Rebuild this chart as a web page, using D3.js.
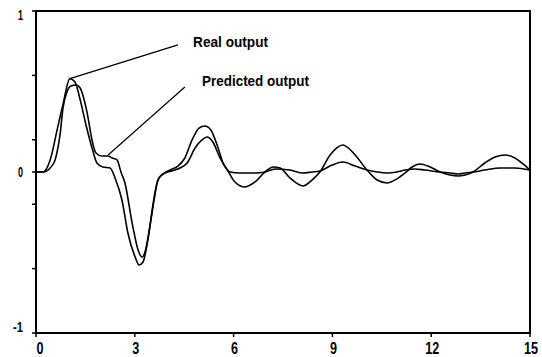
<!DOCTYPE html>
<meta charset="utf-8">
<style>
  body { margin: 0; padding: 0; background: #fff; }
  svg { display: block; background: #fff; }
  .lbl { font-family: "Liberation Sans", Arial, sans-serif; font-weight: bold; fill: #000; }
</style>
<script src="https://d3js.org/d3.v7.min.js"></script>
<svg id="vis"></svg>
<script>
var width = 542, height = 357;

// time axis (both series share it)
var realT = [0, 0.21, 0.43, 0.64, 0.82, 1.03, 1.18, 1.34, 1.52, 1.70, 1.85, 2.03, 2.25, 2.40, 2.61, 2.79, 3.01, 3.13, 3.25, 3.37, 3.49, 3.61, 3.70, 3.86, 4.07, 4.31, 4.52, 4.74, 4.95, 5.13, 5.31, 5.53, 5.68, 5.83, 6.04, 6.35, 6.65, 6.95, 7.20, 7.41, 7.71, 8.11, 8.38, 8.62, 8.93, 9.32, 9.69, 10.05, 10.36, 10.66, 10.96, 11.21, 11.42, 11.66, 11.97, 12.27, 12.57, 12.82, 13.03, 13.27, 13.63, 13.94, 14.24, 14.54, 14.79, 15];
var realY = [0, 0, 0.075, 0.26, 0.42, 0.58, 0.56, 0.45, 0.29, 0.15, 0.056, 0.031, 0.025, -0.037, -0.174, -0.379, -0.528, -0.578, -0.559, -0.453, -0.298, -0.143, -0.05, -0.012, 0.012, 0.037, 0.087, 0.199, 0.273, 0.286, 0.261, 0.149, 0.056, 0.006, -0.062, -0.093, -0.062, 0.0, 0.031, 0.025, -0.037, -0.087, -0.05, 0.0, 0.106, 0.168, 0.106, 0.012, -0.05, -0.068, -0.043, -0.006, 0.031, 0.05, 0.031, 0.0, -0.019, -0.025, -0.019, 0.0, 0.056, 0.093, 0.106, 0.087, 0.05, 0.012];

var predT = [0, 0.21, 0.43, 0.58, 0.64, 0.73, 0.82, 0.94, 1.06, 1.22, 1.34, 1.55, 1.70, 1.82, 2.00, 2.19, 2.31, 2.46, 2.58, 2.70, 2.92, 3.10, 3.22, 3.31, 3.43, 3.55, 3.64, 3.74, 3.92, 4.22, 4.37, 4.59, 4.83, 5.04, 5.19, 5.37, 5.59, 5.77, 5.89, 6.19, 6.65, 6.95, 7.26, 7.71, 8.11, 8.38, 8.62, 8.99, 9.32, 9.69, 10.05, 10.36, 10.66, 10.96, 11.21, 11.51, 11.81, 12.27, 12.57, 12.82, 13.03, 13.27, 13.63, 14.09, 14.54, 15];
var predY = [0, 0, 0.025, 0.075, 0.124, 0.23, 0.398, 0.497, 0.534, 0.54, 0.522, 0.37, 0.199, 0.118, 0.099, 0.099, 0.087, 0.075, 0.0, -0.068, -0.317, -0.484, -0.528, -0.497, -0.373, -0.205, -0.099, -0.037, -0.006, 0.012, 0.025, 0.056, 0.149, 0.199, 0.217, 0.186, 0.087, 0.025, 0.0, -0.006, -0.006, 0.0, 0.019, 0.012, -0.006, 0.0, 0.006, 0.043, 0.062, 0.037, 0.012, 0.0, -0.006, 0.0, 0.012, 0.019, 0.012, 0.0, -0.006, -0.012, -0.006, 0.0, 0.012, 0.025, 0.025, 0.012];

var xTicks = [0, 3, 6, 9, 12, 15];
var yTicks = [-1, -0.6, -0.2, 0, 0.2, 0.6, 1];
var yLabels = [-1, 0, 1];

// annotations: pointer tip, line end, label (data units)
var notes = [
  {text: "Real output",      tip: [1.03, 0.58],  end: [4.31, 0.79],  at: [4.77, 0.777], w: 75},
  {text: "Predicted output", tip: [2.19, 0.106], end: [4.52, 0.528], at: [5.04, 0.534], w: 107}
];

var svg = d3.select("#vis").attr("width", width).attr("height", height);

var x = d3.scaleLinear().domain([0, 15]).range([36, 530]);
var y = d3.scaleLinear().domain([-1, 1]).range([333, 11]);

// frame
svg.append("rect")
  .attr("x", x(0)).attr("y", y(1))
  .attr("width", x(15) - x(0)).attr("height", y(-1) - y(1))
  .attr("fill", "none").attr("stroke", "#000").attr("stroke-width", 2);

// ticks
svg.append("g").selectAll("line").data(yTicks).enter().append("line")
  .attr("x1", x(0) - 4).attr("x2", x(0))
  .attr("y1", d => y(d)).attr("y2", d => y(d))
  .attr("stroke", "#000").attr("stroke-width", 1.5);

svg.append("g").selectAll("line").data(xTicks).enter().append("line")
  .attr("x1", d => x(d)).attr("x2", d => x(d))
  .attr("y1", y(-1)).attr("y2", y(-1) + 4)
  .attr("stroke", "#000").attr("stroke-width", 1.5);

// tick labels (condensed look via textLength)
svg.append("g").selectAll("text").data(xTicks).enter().append("text")
  .attr("class", "lbl")
  .attr("x", d => x(d) + (d == 0 ? 4 : 1)).attr("y", 354)
  .attr("text-anchor", "middle")
  .attr("textLength", d => String(d).length * 7)
  .attr("lengthAdjust", "spacingAndGlyphs")
  .style("font-size", "17px")
  .text(d => d);

svg.append("g").selectAll("text").data(yLabels).enter().append("text")
  .attr("class", "lbl")
  .attr("x", 23).attr("y", d => d == 1 ? y(d) + 9 : (d == -1 ? y(d) - 1 : y(d) + 5))
  .attr("text-anchor", "end")
  .attr("textLength", d => String(d).length * 5)
  .attr("lengthAdjust", "spacingAndGlyphs")
  .style("font-size", "14px")
  .text(d => d);

// curves
var line = d3.line()
  .x(d => x(d[0]))
  .y(d => y(d[1]))
  .curve(d3.curveMonotoneX);

svg.append("path")
  .datum(d3.zip(realT, realY))
  .attr("d", line)
  .attr("fill", "none").attr("stroke", "#000").attr("stroke-width", 1.6);

svg.append("path")
  .datum(d3.zip(predT, predY))
  .attr("d", line)
  .attr("fill", "none").attr("stroke", "#000").attr("stroke-width", 1.6);

// annotations
var g = svg.append("g");
notes.forEach(function(n) {
  g.append("line")
    .attr("x1", x(n.tip[0])).attr("y1", y(n.tip[1]))
    .attr("x2", x(n.end[0])).attr("y2", y(n.end[1]))
    .attr("stroke", "#000").attr("stroke-width", 1.2);
  g.append("text")
    .attr("class", "lbl")
    .attr("x", x(n.at[0])).attr("y", y(n.at[1]))
    .attr("textLength", n.w)
    .attr("lengthAdjust", "spacingAndGlyphs")
    .style("font-size", "14px")
    .text(n.text);
});
</script>
